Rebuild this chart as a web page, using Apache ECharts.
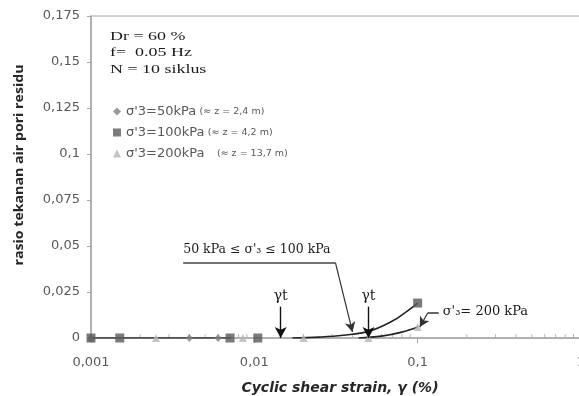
<!DOCTYPE html>
<html>
<head>
<meta charset="utf-8">
<script src="https://cdn.jsdelivr.net/npm/echarts@6/dist/echarts.min.js"></script>
<style>
  html, body { margin: 0; padding: 0; background: #fff; }
  #chart { width: 579px; height: 396px; }
</style>
</head>
<body>
<div id="chart"></div>
<script>
  // measured points (strain in %, pore pressure ratio)
  const strain50 = [0.001, 0.004, 0.006];
  const ratio50 = [0, 0, 0];
  const strain100 = [0.001, 0.0015, 0.0071, 0.0105, 0.1];
  const ratio100 = [0, 0, 0, 0, 0.019];
  const strain200 = [0.001, 0.0025, 0.0085, 0.02, 0.05, 0.1];
  const ratio200 = [0, 0, 0, 0, 0, 0.006];

  // hand drawn trend lines
  const trendLowStrain = [0.001, 0.0072];
  const trendLowRatio = [0, 0];
  const trend100Strain = [0.0171, 0.025, 0.035, 0.05, 0.07, 0.085, 0.1];
  const trend100Ratio = [0, 0.0005, 0.0015, 0.0036, 0.0092, 0.0142, 0.019];
  const trend200Strain = [0.0435, 0.06, 0.08, 0.1];
  const trend200Ratio = [0, 0.001, 0.0032, 0.006];

  // threshold strains (gamma t)
  const gammaT = [0.0145, 0.05];

  // log axis minor ticks
  const minorTicks = [0.002, 0.003, 0.004, 0.005, 0.006, 0.007, 0.008, 0.009,
    0.02, 0.03, 0.04, 0.05, 0.06, 0.07, 0.08, 0.09,
    0.2, 0.3, 0.4, 0.5, 0.6, 0.7, 0.8, 0.9];

  const legendNames = ['σ\'3=50kPa', 'σ\'3=100kPa', 'σ\'3=200kPa'];
  const legendDepth = ['(≈ z = 2,4 m)', '(≈ z = 4,2 m)', '   (≈ z = 13,7 m)'];

  const zip = (xs, ys) => xs.map((x, i) => [x, ys[i]]);
  const fmt = (v) => String(+v.toPrecision(3)).replace('.', ',');
  const serif = '"DejaVu Serif", "Liberation Serif", serif';
  const sans = '"DejaVu Sans", "Open Sans", sans-serif';

  const chart = echarts.init(document.getElementById('chart'));

  const options = {
    animation: false,
    grid: {
      left: 91, top: 16, width: 490, height: 322,
      outerBoundsMode: 'none',
      show: true, borderColor: '#a6a6a6', borderWidth: 1
    },
    legend: {
      data: legendNames,
      orient: 'vertical',
      left: 108, top: 100,
      itemWidth: 8, itemHeight: 8,
      itemGap: 8,
      formatter: (name) => '{a|' + name + '} {b|' + legendDepth[legendNames.indexOf(name)] + '}',
      textStyle: {
        rich: {
          a: { fontFamily: sans, fontSize: 13, color: '#595959' },
          b: { fontFamily: sans, fontSize: 9.5, color: '#595959' }
        }
      }
    },
    xAxis: {
      type: 'log', logBase: 10, min: 0.001, max: 1,
      axisLine: { lineStyle: { color: '#a6a6a6', width: 1.5 } },
      axisTick: { show: true, length: 5, lineStyle: { color: '#a6a6a6' } },
      splitLine: { show: false },
      axisLabel: {
        formatter: fmt, margin: 18,
        fontFamily: sans, fontSize: 13, color: '#595959'
      }
    },
    yAxis: {
      type: 'value', min: 0, max: 0.175, interval: 0.025,
      axisLine: { show: true, lineStyle: { color: '#a6a6a6', width: 1.5 } },
      axisTick: { show: true, length: 4, lineStyle: { color: '#a6a6a6' } },
      splitLine: { show: false },
      axisLabel: {
        formatter: (v) => v === 0 ? '0' : fmt(v), margin: 11,
        fontFamily: sans, fontSize: 13, color: '#595959'
      }
    },
    graphic: [
      {
        type: 'text', x: 20, y: 165, rotation: Math.PI / 2, scaleX: 1.18,
        style: {
          text: 'rasio tekanan air pori residu', align: 'center', verticalAlign: 'middle',
          font: 'bold 12px "Open Sans", sans-serif', fill: '#262626'
        }
      },
      {
        type: 'text', x: 340, y: 388,
        style: {
          text: 'Cyclic shear strain, γ (%)', align: 'center', verticalAlign: 'middle',
          font: 'italic bold 14px ' + sans, fill: '#262626'
        }
      },
      {
        type: 'text', x: 110, y: 28, scaleX: 1.38,
        style: {
          text: 'Dr = 60 %\nf=  0.05 Hz\nN = 10 siklus',
          font: '13px "Liberation Serif", serif', lineHeight: 16.5, fill: '#1a1a1a'
        }
      }
    ],
    series: [
      {
        name: 'minor', type: 'scatter', silent: true,
        data: minorTicks.map((x) => [x, 0]),
        symbol: 'rect', symbolSize: [1, 4], symbolOffset: [0, -2],
        itemStyle: { color: '#a6a6a6' }, z: 1
      },
      {
        name: 'trendLow', type: 'line', silent: true,
        data: zip(trendLowStrain, trendLowRatio), showSymbol: false,
        lineStyle: { color: '#333', width: 1.6 }
      },
      {
        name: 'trend100', type: 'line', silent: true, smooth: 0.4,
        data: zip(trend100Strain, trend100Ratio), showSymbol: false,
        lineStyle: { color: '#222', width: 1.6 },
        markLine: {
          silent: true, symbol: ['none', 'arrow'], symbolSize: [9, 11],
          lineStyle: { color: '#111', width: 1.4, type: 'solid' },
          label: {
            show: true, position: 'start', distance: 3, formatter: 'γt',
            fontFamily: serif, fontSize: 14, color: '#1a1a1a'
          },
          data: gammaT.map((g) => [{ coord: [g, 0.017] }, { coord: [g, 0] }])
        }
      },
      {
        name: 'trend200', type: 'line', silent: true, smooth: 0.4,
        data: zip(trend200Strain, trend200Ratio), showSymbol: false,
        lineStyle: { color: '#222', width: 1.6 }
      },
      {
        name: 'leader100', type: 'line', silent: true,
        data: [[0.00367, 0.0408], [0.0314, 0.0408]], showSymbol: false,
        lineStyle: { color: '#444', width: 1.4 },
        markLine: {
          silent: true, symbol: ['none', 'arrow'], symbolSize: [8, 10],
          lineStyle: { color: '#333', width: 1.2, type: 'solid' },
          label: { show: false },
          data: [[{ coord: [0.0314, 0.0408] }, { coord: [0.0399, 0.0033] }]]
        },
        markPoint: {
          silent: true, symbol: 'circle', symbolSize: 0,
          label: {
            show: true, position: 'right', distance: 0, offset: [0, -13],
            formatter: '50 kPa ≤ σ\'₃ ≤ 100 kPa',
            fontFamily: serif, fontSize: 12.5, color: '#1a1a1a'
          },
          data: [{ coord: [0.00367, 0.0408] }]
        }
      },
      {
        name: 'leader200', type: 'line', silent: true,
        data: [[0.1152, 0.0136], [0.1345, 0.0136]], showSymbol: false,
        lineStyle: { color: '#333', width: 1.4 },
        markLine: {
          silent: true, symbol: ['none', 'arrow'], symbolSize: [8, 10],
          lineStyle: { color: '#333', width: 1.2, type: 'solid' },
          label: { show: false },
          data: [[{ coord: [0.1152, 0.0136] }, { coord: [0.103, 0.006] }]]
        },
        markPoint: {
          silent: true, symbol: 'circle', symbolSize: 0,
          label: {
            show: true, position: 'right', distance: 4, offset: [0, -1],
            formatter: 'σ\'₃= 200 kPa',
            fontFamily: serif, fontSize: 13, color: '#1a1a1a'
          },
          data: [{ coord: [0.1345, 0.0136] }]
        }
      },
      {
        name: legendNames[0], type: 'scatter',
        data: zip(strain50, ratio50),
        symbol: 'diamond', symbolSize: [7, 8],
        itemStyle: { color: '#7f7f7f' }, z: 4
      },
      {
        name: legendNames[1], type: 'scatter',
        data: zip(strain100, ratio100),
        symbol: 'rect', symbolSize: 9,
        itemStyle: { color: '#5a5a5a' }, z: 4
      },
      {
        name: legendNames[2], type: 'scatter',
        data: zip(strain200, ratio200),
        symbol: 'triangle', symbolSize: 8,
        itemStyle: { color: '#b5b5b5' }, z: 3
      }
    ]
  };

  chart.setOption(options);
</script>
</body>
</html>
